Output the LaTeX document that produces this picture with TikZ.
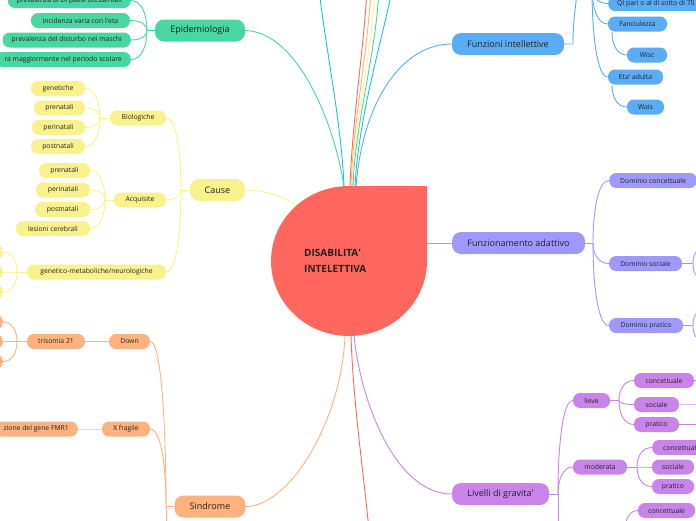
\documentclass[tikz,border=0pt]{standalone}
\usepackage{fontspec}
\setmainfont{Open Sans}
\usetikzlibrary{calc}
\definecolor{grn}{HTML}{48D6A2}
\definecolor{ylw}{HTML}{F9F18B}
\definecolor{org}{HTML}{FFB27D}
\definecolor{blu}{HTML}{5AACF5}
\definecolor{pur}{HTML}{9F99FC}
\definecolor{vio}{HTML}{C884E8}
\definecolor{rootred}{HTML}{FF675E}
\definecolor{cyn}{HTML}{18C4D6}
\definecolor{txt}{HTML}{222222}
\newcommand\aq{\textquotesingle}
\begin{document}
\begin{tikzpicture}[x=1pt,y=-1pt,
  l1/.style={rounded corners=9pt, minimum height=22pt, inner xsep=0pt, inner ysep=0pt, font=\fontsize{9}{11}\selectfont, text=txt},
  l2/.style={rounded corners=7pt, minimum height=15pt, inner xsep=0pt, inner ysep=0pt, font=\fontsize{6.8}{8}\selectfont, text=txt},
  cut/.style={inner xsep=9pt},
  br/.style={to path={.. controls ($(\tikztostart)!0.7!(\tikztotarget|-\tikztostart)$) and ($(\tikztotarget)!0.5!(\tikztotarget|-\tikztostart)$) .. (\tikztotarget)}},
  cn/.style={line width=0.9pt}
]
\useasboundingbox (0,0) rectangle (696,520);
\clip (0,0) rectangle (696,520);

% ---------- coordinates ----------
\coordinate (jE) at (147,30.5);
\coordinate (jC) at (181,190);
\coordinate (jB) at (100,118);
\coordinate (jA) at (105,200);
\coordinate (jG) at (17,272);
\coordinate (jS) at (166,506.5);
\coordinate (jSd) at (166,530);
\coordinate (jT) at (17,341.5);
\coordinate (jF) at (573,44);
\coordinate (jFu) at (577,-8);
\coordinate (jTop) at (592,-12);
\coordinate (jWi) at (612,32);
\coordinate (jWa) at (612,85);
\coordinate (jD) at (593,243);
\coordinate (jDs) at (693,263.5);
\coordinate (jDp) at (693,325.5);
\coordinate (oDs1) at (703,248);
\coordinate (oDs2) at (703,279);
\coordinate (oDp1) at (703,310);
\coordinate (oDp2) at (703,341);
\coordinate (jL) at (558,494);
\coordinate (jLd) at (558,530);
\coordinate (jLv) at (619,400.5);
\coordinate (jM) at (637,467);
\coordinate (jC3) at (625,530);
\coordinate (oLc) at (703,380.5);
\coordinate (oLs) at (703,404.5);
\coordinate (oLp) at (703,424.5);
% root attachment points
\coordinate (rE) at (344,187);
\coordinate (rB) at (356,187);
\coordinate (rC) at (349,261);
\coordinate (rFa) at (420,243);
\coordinate (rS) at (345,335);
\coordinate (rR) at (351,335);
\coordinate (rL) at (354,335);
\coordinate (tC1) at (320,-2);
\coordinate (eC1) at (344,187);
\coordinate (tR) at (366.5,-2);
\coordinate (eR) at (350,187);
\coordinate (tO) at (370.5,-2);
\coordinate (eO) at (351,187);
\coordinate (tY) at (374.5,-2);
\coordinate (eY) at (352,187);
\coordinate (tG) at (378.5,-2);
\coordinate (eG) at (353,187);
\coordinate (tC2) at (390.5,-2);
\coordinate (eC2) at (355,187);
\coordinate (bR) at (368.5,525);

% ---------- root connectors ----------
\draw[cn,cyn] (tC1) .. controls (328,60) and (342,130) .. (eC1);
\draw[cn,rootred] (tR) .. controls (362,62) and (352,125) .. (eR);
\draw[cn,org] (tO) .. controls (366,62) and (353,125) .. (eO);
\draw[cn,ylw] (tY) .. controls (370,62) and (354,125) .. (eY);
\draw[cn,grn] (tG) .. controls (374,62) and (355,125) .. (eG);
\draw[cn,cyn] (tC2) .. controls (376,62) and (358,125) .. (eC2);

% ---------- nodes ----------
% Epidemiologia
\node[l1,fill=grn,minimum width=90pt] (epi) at (200,30.5) {Epidemiologia};
\node[l2,cut,fill=grn,anchor=east] (e1) at (131,0.5) {prevalenza di DI paesi occidentali};
\node[l2,fill=grn,minimum width=99pt] (e2) at (80.5,20.5) {incidenza varia con l\aq eta};
\node[l2,cut,fill=grn,anchor=east] (e3) at (131,40) {prevalenza del disturbo nei maschi};
\node[l2,cut,fill=grn,anchor=east] (e4) at (131,59.5) {ra maggiormente nel periodo scolare};
% Cause
\node[l1,fill=ylw,minimum width=55pt] (cau) at (217.5,190) {Cause};
\node[l2,fill=ylw,minimum width=56pt] (bio) at (138,118) {Biologiche};
\node[l2,fill=ylw,minimum width=52pt] (acq) at (140,200) {Acquisite};
\node[l2,fill=ylw,minimum width=139pt] (gen) at (96.5,272) {genetico-metaboliche/neurologiche};
\node[l2,fill=ylw,minimum width=54pt] (b1) at (58,88.5) {genetiche};
\node[l2,fill=ylw,minimum width=51pt] (b2) at (59.5,108) {prenatali};
\node[l2,fill=ylw,minimum width=53pt] (b3) at (58.5,127.5) {perinatali};
\node[l2,fill=ylw,minimum width=54pt] (b4) at (58,146.5) {postnatali};
\node[l2,fill=ylw,minimum width=51pt] (a1) at (64.5,170.5) {prenatali};
\node[l2,fill=ylw,minimum width=54pt] (a2) at (63,190) {perinatali};
\node[l2,fill=ylw,minimum width=55pt] (a3) at (62.5,209.5) {postnatali};
\node[l2,fill=ylw,minimum width=74pt] (a4) at (53,228.5) {lesioni cerebrali};
\node[l2,fill=ylw,minimum width=30pt,anchor=east] (g1) at (3,252) {};
\node[l2,fill=ylw,minimum width=30pt,anchor=east] (g2) at (3,272) {};
\node[l2,fill=ylw,minimum width=30pt,anchor=east] (g3) at (3,292) {};
% Sindrome
\node[l1,fill=org,minimum width=71pt] (sin) at (210,506.5) {Sindrome};
\node[l2,fill=org,minimum width=41pt] (dow) at (129.5,341.5) {Down};
\node[l2,fill=org,minimum width=58pt] (tri) at (56,341.5) {trisomia 21};
\node[l2,fill=org,minimum width=30pt,anchor=east] (t1) at (3,322) {};
\node[l2,fill=org,minimum width=30pt,anchor=east] (t2) at (3,341.5) {};
\node[l2,fill=org,minimum width=30pt,anchor=east] (t3) at (3,361.5) {};
\node[l2,fill=org,minimum width=48pt] (xf) at (126,429) {X fragile};
\node[l2,cut,fill=org,anchor=east] (fmr) at (78,429) {zione del gene FMR1};
% Funzioni intellettive
\node[l1,fill=blu,minimum width=112pt] (fi) at (508,44) {Funzioni intellettive};
\node[l2,cut,fill=blu,anchor=west] (qi) at (608,3.5) {QI pari o al di sotto di 70};
\node[l2,fill=blu,minimum width=59pt] (fan) at (637.5,24) {Fanciulezza};
\node[l2,fill=blu,minimum width=40pt] (wis) at (647,55) {Wisc};
\node[l2,fill=blu,minimum width=55pt] (eta) at (635.5,77) {Eta\aq{} adulta};
\node[l2,fill=blu,minimum width=37pt] (wai) at (645.5,107) {Wais};
% Funzionamento adattivo
\node[l1,fill=pur,minimum width=133pt] (fa) at (518.5,243) {Funzionamento adattivo};
\node[l2,fill=pur,anchor=west,inner xsep=11pt] (dc) at (609,180.5) {Dominio concettuale};
\node[l2,fill=pur,minimum width=73pt] (ds) at (645.5,263.5) {Dominio sociale};
\node[l2,fill=pur,minimum width=74pt] (dp) at (646,325.5) {Dominio pratico};
% Livelli di gravita'
\node[l1,fill=vio,minimum width=97pt] (lg) at (500.5,494) {Livelli di gravita\aq};
\node[l2,fill=vio,minimum width=37pt] (lie) at (591.5,400.5) {lieve};
\node[l2,fill=vio,minimum width=54pt] (mod) at (600,467) {moderata};
\node[l2,fill=vio,minimum width=60pt] (lc) at (664,380.5) {concettuale};
\node[l2,fill=vio,minimum width=45pt] (ls) at (656.5,404.5) {sociale};
\node[l2,fill=vio,minimum width=45pt] (lp) at (656.5,424.5) {pratico};
\node[l2,fill=vio,anchor=west,inner xsep=11pt] (mc) at (652,447.5) {concettuale};
\node[l2,fill=vio,minimum width=42pt] (ms) at (673,467) {sociale};
\node[l2,fill=vio,minimum width=42pt] (mp) at (673,486.5) {pratico};
\node[l2,fill=vio,minimum width=57pt] (c3) at (666.5,510.5) {concettuale};

% ---------- connectors ----------
\begin{scope}[on background layer/.style={}]
\end{scope}
\begin{pgfonlayer}{main}\end{pgfonlayer}

% level-1 to root
\draw[cn,grn] (epi.east) .. controls (300,32) and (336,130) .. (rE);
\draw[cn,ylw] (cau.east) .. controls (285,190) and (320,215) .. (rC);
\draw[cn,org] (rS) .. controls (342,420) and (290,506.5) .. (sin.east);
\draw[cn,rootred] (rR) .. controls (353,400) and (362,460) .. (bR);
\draw[cn,blu] (fi.west) .. controls (400,44) and (362,105) .. (rB);
\draw[cn,pur] (rFa) -- (fa.west);
\draw[cn,vio] (rL) .. controls (360,400) and (395,494) .. (lg.west);

% Epidemiologia
\draw[cn,grn] (epi.west) -- (jE);
\foreach \c in {e1,e2,e3,e4} \draw[cn,grn] (\c.east) to[br] (jE);
% Cause
\draw[cn,ylw] (cau.west) -- (jC);
\foreach \c in {bio,acq,gen} \draw[cn,ylw] (\c.east) to[br] (jC);
\draw[cn,ylw] (bio.west) -- (jB);
\foreach \c in {b1,b2,b3,b4} \draw[cn,ylw] (\c.east) to[br] (jB);
\draw[cn,ylw] (acq.west) -- (jA);
\foreach \c in {a1,a2,a3,a4} \draw[cn,ylw] (\c.east) to[br] (jA);
\draw[cn,ylw] (gen.west) -- (jG);
\foreach \c in {g1,g2,g3} \draw[cn,ylw] (\c.east) to[br] (jG);
% Sindrome
\draw[cn,org] (sin.west) -- (jS);
\draw[cn,org] (jS) -- (jSd);
\foreach \c in {dow,xf} \draw[cn,org] (\c.east) to[br] (jS);
\draw[cn,org] (dow.west) -- (tri.east);
\draw[cn,org] (tri.west) -- (jT);
\foreach \c in {t1,t2,t3} \draw[cn,org] (\c.east) to[br] (jT);
\draw[cn,org!60] (xf.west) -- (fmr.east);
% Funzioni intellettive
\draw[cn,blu] (fi.east) -- (jF) .. controls (573,20) and (576,5) .. (jFu);
\foreach \c in {qi,fan,eta} \draw[cn,blu] (\c.west) to[br] (jTop);
\draw[cn,blu] (wis.west) to[br] (jWi);
\draw[cn,blu] (wai.west) to[br] (jWa);
% Funzionamento adattivo
\draw[cn,pur] (fa.east) -- (jD);
\foreach \c in {dc,ds,dp} \draw[cn,pur] (\c.west) to[br] (jD);
\draw[cn,pur] (ds.east) -- (jDs);
\draw[cn,pur] (oDs1) to[br] (jDs);
\draw[cn,pur] (oDs2) to[br] (jDs);
\draw[cn,pur] (dp.east) -- (jDp);
\draw[cn,pur] (oDp1) to[br] (jDp);
\draw[cn,pur] (oDp2) to[br] (jDp);
% Livelli
\draw[cn,vio] (lg.east) -- (jL);
\draw[cn,vio] (jL) -- (jLd);
\foreach \c in {lie,mod} \draw[cn,vio] (\c.west) to[br] (jL);
\draw[cn,vio] (lie.east) -- (jLv);
\foreach \c in {lc,ls,lp} \draw[cn,vio] (\c.west) to[br] (jLv);
\draw[cn,vio] (mod.east) -- (jM);
\foreach \c in {mc,ms,mp} \draw[cn,vio] (\c.west) to[br] (jM);
\draw[cn,vio] (c3.west) to[br] (jC3);
\draw[cn,vio] (lc.east) -- (oLc);
\draw[cn,vio!60] (ls.east) -- (oLs);
\draw[cn,vio] (lp.east) -- (oLp);

% ---------- root shape ----------
\fill[rootred] (427,186) -- (427,261) arc[start angle=0,end angle=270,x radius=78,y radius=75] -- cycle;
\node[font=\bfseries\fontsize{10}{16}\selectfont, align=left, anchor=west, text=txt, inner sep=0pt] (root) at (304,261) {DISABILITA\aq\\INTELETTIVA};
\end{tikzpicture}
\end{document}
